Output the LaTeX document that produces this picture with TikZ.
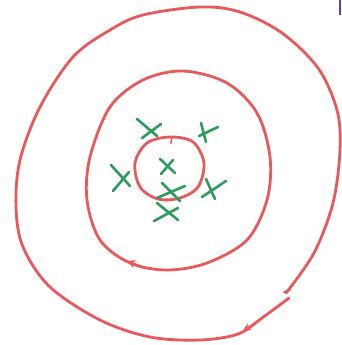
\documentclass[tikz,border=0pt]{standalone}
\usetikzlibrary{arrows.meta}
\definecolor{ringred}{HTML}{E8595C}
\definecolor{xgreen}{HTML}{2E9A5C}
\definecolor{markblue}{HTML}{5A3FC0}
\tikzset{
  ring/.style={draw=ringred, line width=2.8pt, line cap=round, line join=round},
  xmark/.style={draw=xgreen, line width=2.6pt, line cap=round},
  tipmark/.style={draw=ringred, line width=2pt, -{Stealth[length=8pt,width=8pt]}},
}
\begin{document}
\begin{tikzpicture}[x=1pt,y=-1pt]
\useasboundingbox (0,0) rectangle (341,345);
\fill[white] (0,0) rectangle (341,345);
% outer ring
\draw[ring] plot[smooth, tension=0.55] coordinates {
 (286,293) (314,253) (333,203) (340,150) (337,110) (318,68) (282,33) (240,12) (200,7)
 (143,15) (110,30) (73,57) (40,107) (20,160) (16,207) (23,247) (50,287) (100,320)
 (150,337) (200,340) (238,334) (262,318) (289,298)};
\draw[ring, line width=2pt] (284,292) -- (290,290);
% middle ring
\draw[ring] plot[smooth cycle, tension=0.55] coordinates {
 (183,71) (227,83) (257,113) (270,157) (267,200) (247,240) (207,263) (167,270)
 (130,263) (100,240) (87,200) (90,157) (110,107) (143,80)};
% inner ring
\draw[ring] plot[smooth cycle, tension=0.55] coordinates {
 (170,137) (193,142) (204,163) (198,187) (180,198) (158,199) (140,187) (135,163) (147,143)};
\draw[ring, line width=1.6pt] (172,137) -- (171,143);
% arrow tips
\coordinate (ma) at (140,266);
\coordinate (mb) at (127,261);
\draw[tipmark] (ma) -- (mb);
\coordinate (oa) at (260,320);
\coordinate (ob) at (243,331);
\draw[tipmark] (oa) -- (ob);
% green crosses
\draw[xmark] (137,119) -- (157,136); \draw[xmark] (142,138) -- (161,124);
\draw[xmark] (201,123) -- (206,142); \draw[xmark] (199,136) -- (218,127);
\draw[xmark] (160,159) -- (175,173); \draw[xmark] (161,174) -- (173,160);
\draw[xmark] (111,165) -- (130,186); \draw[xmark] (113,191) -- (129,172);
\draw[xmark] (162,183) -- (180,201); \draw[xmark] (157,198) -- (185,186);
\draw[xmark] (206,179) -- (215,199); \draw[xmark] (202,197) -- (226,181);
\draw[xmark] (157,203) -- (178,220); \draw[xmark] (154,221) -- (178,208);
% blue mark top right
\draw[markblue, line width=2pt] (339.5,0) -- (339.5,15);
\end{tikzpicture}
\end{document}
